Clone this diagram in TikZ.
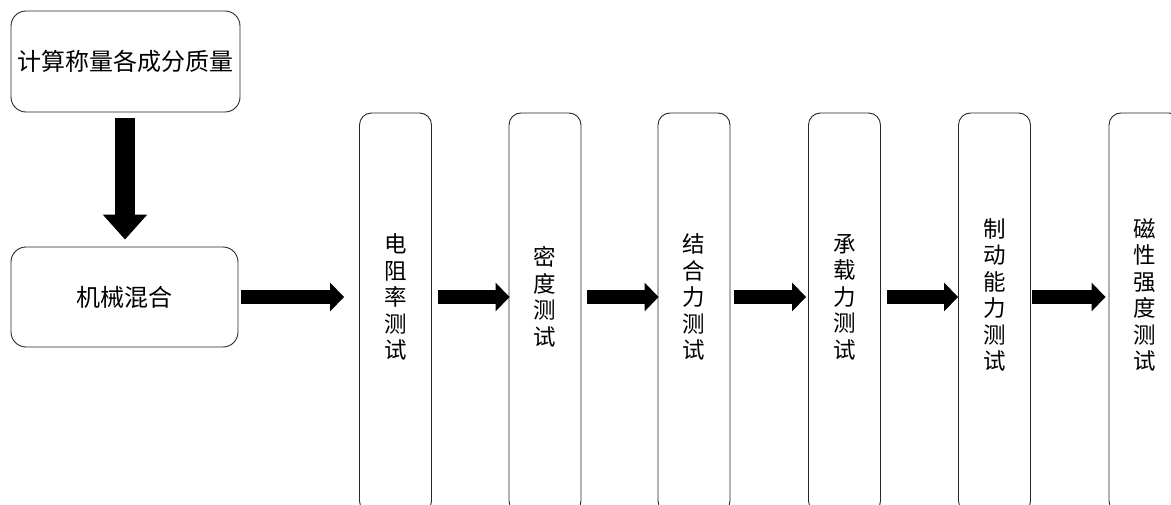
\documentclass[tikz,border=0pt]{standalone}
\usepackage{fontspec}
\setmainfont{Noto Sans CJK SC}
\usetikzlibrary{arrows.meta}
\tikzset{
  box/.style={draw=black!85, line width=0.9pt, rounded corners=15pt, inner sep=0pt, font=\fontsize{24}{27}\selectfont},
  tall/.style={draw=black!85, line width=0.9pt, rounded corners=12pt, inner sep=0pt, minimum width=72pt, minimum height=400pt},
  vt/.style={align=center, font=\fontsize{22.5}{26.5}\selectfont, inner sep=0pt},
  harrow/.style={line width=14pt, -{Triangle[length=14pt,width=28pt]}},
  varrow/.style={line width=20pt, -{Triangle[length=25pt,width=43pt]}}
}
\begin{document}
\begin{tikzpicture}[x=1pt,y=-1pt]
\useasboundingbox (0,0) rectangle (1171,505);
\node[box, minimum width=229pt, minimum height=101pt] (calc) at (125.5,61.5) {计算称量各成分质量};
\node[box, minimum width=227pt, minimum height=100pt] (mix) at (124.5,297) {机械混合};
\draw[varrow, shorten <=6pt, shorten >=7pt] (calc.south -| 125,0) -- (mix.north -| 125,0);

\node[tall] (b1) at (395.5,313) {};
\node[tall] (b2) at (545,313) {};
\node[tall] (b3) at (694,313) {};
\node[tall] (b4) at (844.5,313) {};
\node[tall] (b5) at (994.5,313) {};
\node[tall] (b6) at (1145,313) {};

\node[vt] (t1) at (b1 |- mix) {电\\阻\\率\\测\\试};
\node[vt] (t2) at (b2 |- mix) {密\\度\\测\\试};
\node[vt] (t3) at (b3 |- mix) {结\\合\\力\\测\\试};
\node[vt] (t4) at (b4 |- mix) {承\\载\\力\\测\\试};
\node[vt] (t5) at ([yshift=2pt]b5 |- mix) {制\\动\\能\\力\\测\\试};
\node[vt] (t6) at ([yshift=2pt]b6 |- mix) {磁\\性\\强\\度\\测\\试};

\draw[harrow, shorten <=3pt, shorten >=15pt] (mix.east) -- (mix.east -| b1.west);
\draw[harrow, shorten <=6pt, shorten >=-1pt] (t1 -| b1.east) -- (t1 -| b2.west);
\draw[harrow, shorten <=6pt, shorten >=-1pt] (t2 -| b2.east) -- (t2 -| b3.west);
\draw[harrow, shorten <=4pt, shorten >=2pt] (t3 -| b3.east) -- (t3 -| b4.west);
\draw[harrow, shorten <=6pt, shorten >=0pt] (t4 -| b4.east) -- (t4 -| b5.west);
\draw[harrow, shorten <=1pt, shorten >=3pt] (mix -| b5.east) -- (mix -| b6.west);
\end{tikzpicture}
\end{document}
